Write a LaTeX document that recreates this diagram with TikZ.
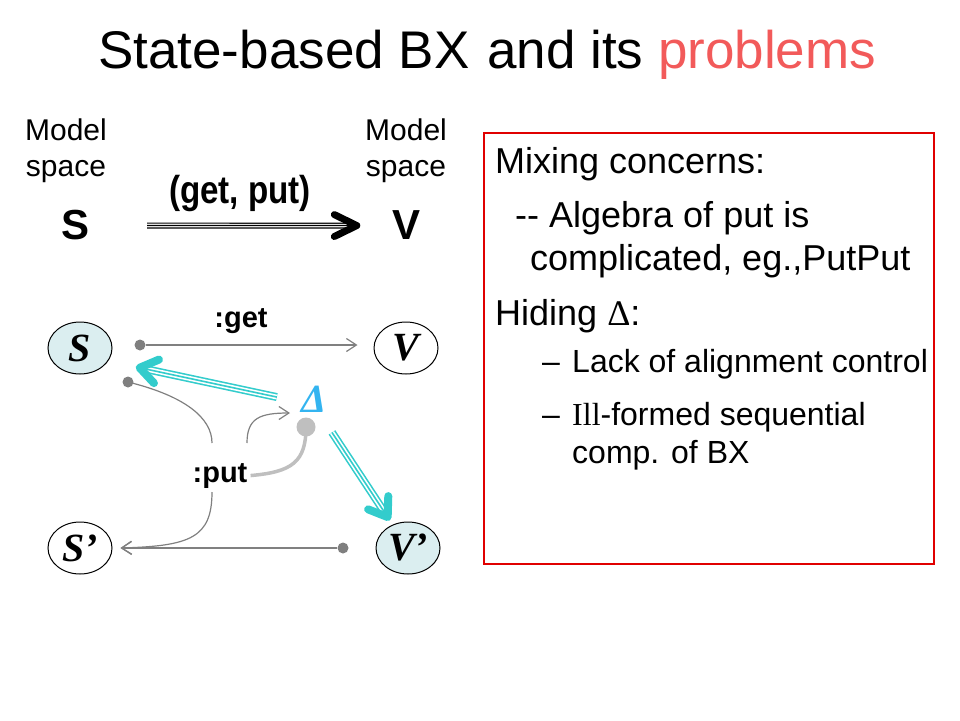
\documentclass[tikz,border=0pt]{standalone}
\usepackage{fontspec}
\setmainfont{Liberation Sans}
\newfontfamily\serif{Liberation Serif}
\newfontfamily\narrow[FakeStretch=0.85]{Liberation Sans}
\usepackage{tikz}
\usetikzlibrary{calc,shapes.geometric,arrows.meta}
\definecolor{statefill}{HTML}{DBEEF0}
\definecolor{bxcyan}{HTML}{33CCCC}
\definecolor{deltablue}{HTML}{33B4F0}
\definecolor{linegray}{HTML}{808080}
\definecolor{dotgray}{HTML}{7F7F7F}
\definecolor{lightdotgray}{HTML}{BFBFBF}
\definecolor{boxred}{HTML}{E00000}
\definecolor{probred}{HTML}{F25A5A}

\begin{document}
\begin{tikzpicture}[x=1pt,y=-1pt,
    state/.style={ellipse,draw,line width=1pt,minimum width=64pt,minimum height=52pt,inner sep=0pt,
        font=\fontsize{40}{40}\selectfont\serif\bfseries\itshape},
    dot/.style={circle,fill=dotgray,inner sep=0pt,minimum size=11pt},
    lightdot/.style={circle,fill=lightdotgray,inner sep=0pt,minimum size=19pt},
    grayarrow/.style={draw=linegray,line width=1.2pt,-{Straight Barb[length=10pt,width=13pt]}},
    tripleblack/.style={draw=black,line width=6pt,postaction={draw=white,line width=3.6pt},
        postaction={draw=black,line width=1.2pt}},
    triplecyan/.style={draw=bxcyan,line width=8pt,postaction={draw=white,line width=4.8pt},
        postaction={draw=bxcyan,line width=1.6pt}},
    blackbarb/.style={draw=black,line width=7pt,line cap=round,line join=round},
    cyanbarb/.style={draw=bxcyan,line width=8pt,line cap=round,line join=round},
    txt/.style={anchor=base west,inner sep=0pt}]
    \useasboundingbox (0,0) rectangle (960,720);

    \node[txt,font=\fontsize{53}{53}\selectfont] (title) at (98,68) {State-based BX};
    \node[txt,font=\fontsize{53}{53}\selectfont] (title2) at (487,68) {and its \textcolor{probred}{problems}};

    \node[anchor=base,align=center,inner sep=0pt,font=\fontsize{30}{36}\selectfont] (sspace) at (66,176) {Model\\space};
    \node[anchor=base,align=center,inner sep=0pt,font=\fontsize{30}{36}\selectfont] (vspace) at (406,176) {Model\\space};
    \node[anchor=base,inner sep=0pt,font=\fontsize{42}{42}\selectfont\bfseries] (bigS) at (76,239) {S};
    \node[anchor=base,inner sep=0pt,font=\fontsize{42}{42}\selectfont\bfseries] (bigV) at (407,239) {V};
    \node[anchor=base,inner sep=0pt,font=\fontsize{39}{39}\selectfont\narrow\bfseries] (getput) at (240,203) {(get, put)};
    \coordinate (gptail) at ($([yshift=-1pt]bigS.east)!57pt!([yshift=-1pt]bigV.west)$);
    \coordinate (gptip) at ($([yshift=-1pt]bigV.west)!36pt!([yshift=-1pt]bigS.east)$);
    \draw[tripleblack] (gptail) -- (gptip);
    \draw[blackbarb] ($(gptip)!25pt!26:(gptail)$) -- (gptip) -- ($(gptip)!25pt!-26:(gptail)$);

    \node[state,fill=statefill] (s) at (80,348) {S};
    \node[state] (v) at (406,348) {V};
    \node[state] (s2) at (80,548) {S’};
    \node[state,fill=statefill] (v2) at (408,548) {V’};

    \node[dot] (getdot) at (140,345) {};
    \node[dot] (putdot) at (128,382) {};
    \node[dot] (vdot) at (343,548) {};
    \node[lightdot] (deltadot) at (306,427) {};
    \node[text=deltablue,inner sep=0pt,font=\fontsize{40}{40}\selectfont\serif\bfseries\itshape] (delta) at (314,399) {Δ};
    \node[anchor=base,inner sep=3pt,font=\fontsize{29}{29}\selectfont\bfseries] (get) at (241,327) {:get};
    \node[anchor=base,inner sep=3pt,font=\fontsize{29}{29}\selectfont\bfseries] (put) at (220,482) {:put};

    \coordinate (putup) at (212,443);
    \coordinate (putdown) at (212,492);
    \coordinate (putside) at (247,443);
    \coordinate (deltain) at (290,413);

    \draw[grayarrow,shorten >=16pt] (getdot) -- (getdot -| v.west);
    \draw[grayarrow,shorten >=8pt] (vdot) -- (vdot -| s2.east);
    \draw[draw=linegray,line width=1.2pt] (putdot.center) .. controls (185,396) and (212,418) .. (putup);
    \draw[grayarrow] (putdown) .. controls (212,538) and (190,546) .. ($(s2.east)+(8,0)$);
    \draw[grayarrow] (putside) .. controls (247,418) and (260,413) .. (deltain);
    \draw[draw=lightdotgray,line width=3.5pt] (put.east) .. controls (292,472) and (306,462) .. (deltadot.center);

    \coordinate (c1tail) at ($([yshift=-6pt]delta.center)!38pt!([yshift=-7pt]s.center)$);
    \coordinate (c1tip) at ($([yshift=-7pt]s.center)!61pt!([yshift=-6pt]delta.center)$);
    \coordinate (c2tail) at ($([xshift=-4pt]delta.center)!40pt!(v2.center)$);
    \coordinate (c2tip) at ($(v2.center)!37pt!([xshift=-4pt]delta.center)$);
    \draw[triplecyan] (c1tail) -- (c1tip);
    \draw[cyanbarb] ($(c1tip)!21pt!35:(c1tail)$) -- (c1tip) -- ($(c1tip)!21pt!-35:(c1tail)$);
    \draw[triplecyan] (c2tail) -- (c2tip);
    \draw[cyanbarb] ($(c2tip)!21pt!35:(c2tail)$) -- (c2tip) -- ($(c2tip)!21pt!-35:(c2tail)$);

    \draw[boxred,line width=2pt] (484,133) rectangle (934,564);
    \node[txt,font=\fontsize{36}{36}\selectfont] (mix) at (495,173) {Mixing concerns:};
    \node[txt,font=\fontsize{36}{36}\selectfont] (alg) at (515,227) {-{}- Algebra of put is};
    \node[txt,font=\fontsize{36}{36}\selectfont] (comp) at (530,270) {complicated, eg.,PutPut};
    \node[txt,font=\fontsize{36}{36}\selectfont] (hide) at (495,325) {Hiding {\serif Δ}:};
    \foreach \y in {372,425}
        \node[txt,font=\fontsize{32}{32}\selectfont] at (542,\y) {–};
    \node[txt,font=\fontsize{32}{32}\selectfont] (lack) at (572,372) {Lack of alignment control};
    \node[txt,font=\fontsize{32}{32}\selectfont] (ill) at (572,425) {{\serif Ill}-formed sequential};
    \node[txt,font=\fontsize{32}{32}\selectfont] (bx) at (572,463) {comp. of BX};
\end{tikzpicture}
\end{document}
